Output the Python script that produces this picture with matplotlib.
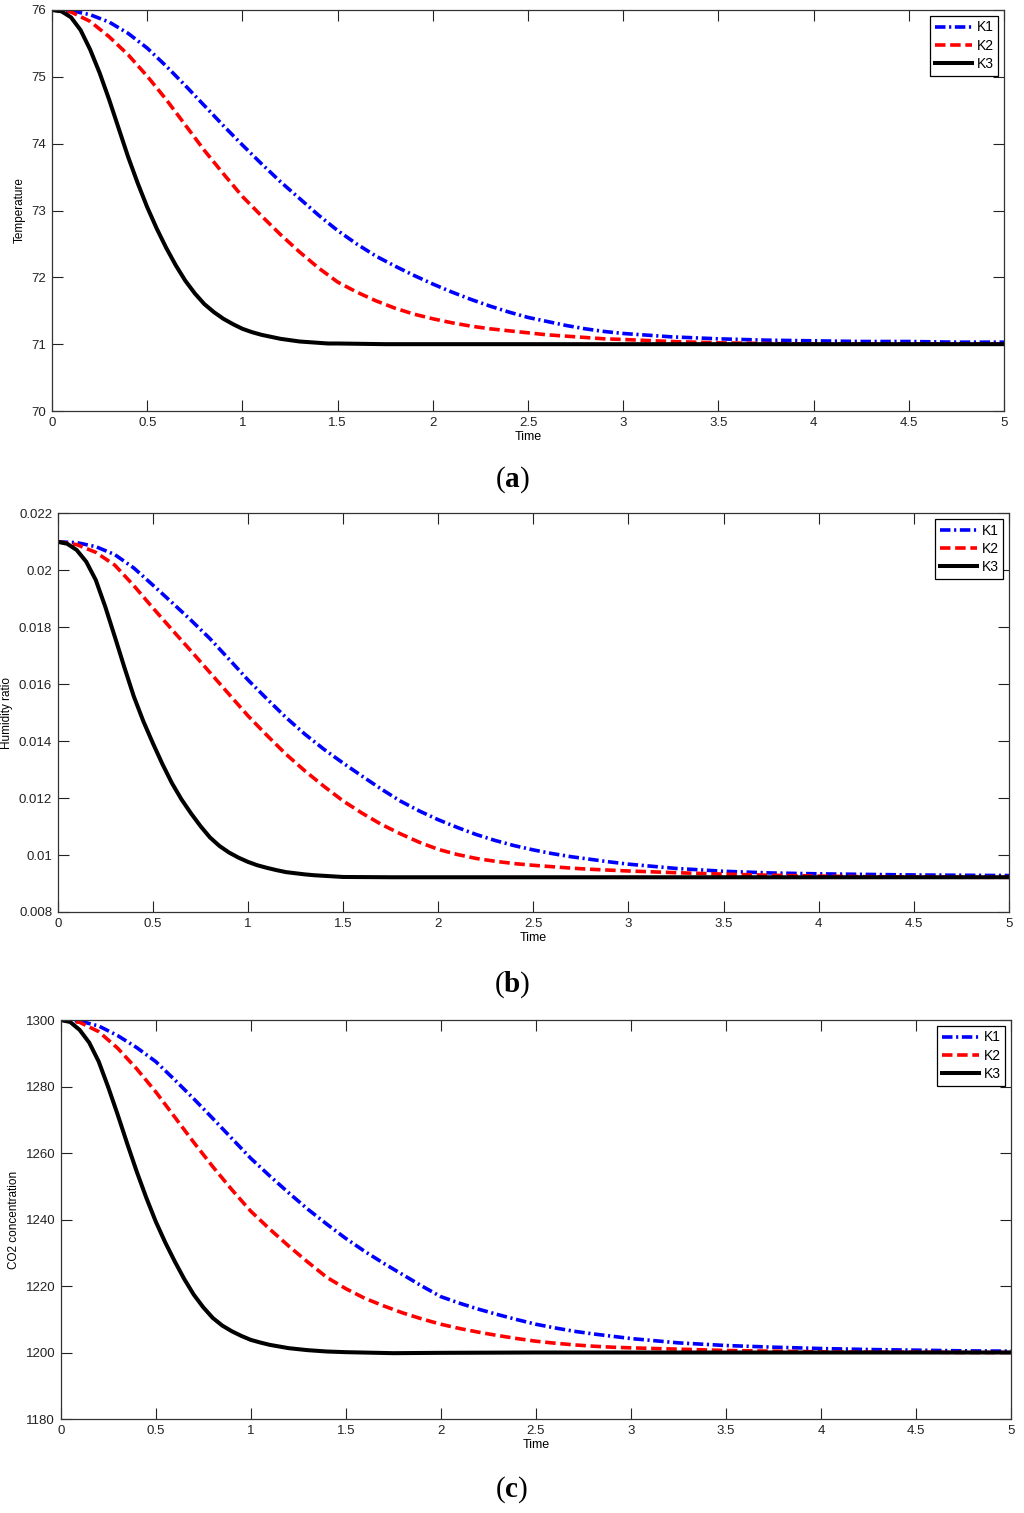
import matplotlib
matplotlib.use('Agg')
import matplotlib.pyplot as plt
from matplotlib.ticker import FormatStrFormatter

plt.rcParams['font.family'] = ['Liberation Sans', 'DejaVu Sans']
plt.rcParams['mathtext.fontset'] = 'custom'
plt.rcParams['mathtext.rm'] = 'Liberation Serif'
plt.rcParams['mathtext.bf'] = 'Liberation Serif:bold'

# time points for the slower K1 / K2 curves
t_slow = [0, 0.1, 0.2, 0.3, 0.4, 0.5, 0.6, 0.7, 0.8, 0.9, 1.0, 1.1, 1.2, 1.3, 1.4,
          1.5, 1.6, 1.7, 1.8, 1.9, 2.0, 2.1, 2.2, 2.3, 2.4, 2.5, 2.6, 2.7, 2.8, 2.9,
          3.0, 3.25, 3.5, 3.75, 4.0, 4.25, 4.5, 4.75, 5.0]
# time points for the fast K3 curve
t_fast = [0, 0.05, 0.1, 0.15, 0.2, 0.25, 0.3, 0.35, 0.4, 0.45, 0.5, 0.55, 0.6, 0.65,
          0.7, 0.75, 0.8, 0.85, 0.9, 0.95, 1.0, 1.05, 1.1, 1.15, 1.2, 1.25, 1.3, 1.35,
          1.4, 1.45, 1.5, 1.75, 2.0, 2.5, 3.0, 3.5, 4.0, 4.5, 5.0]

# (a) temperature
temp_k1 = [76.00, 75.99, 75.93, 75.82, 75.65, 75.43, 75.16, 74.87, 74.57, 74.27,
           73.98, 73.70, 73.43, 73.18, 72.93, 72.70, 72.50, 72.32, 72.17, 72.03,
           71.90, 71.78, 71.67, 71.57, 71.48, 71.40, 71.34, 71.28, 71.23, 71.19,
           71.16, 71.11, 71.08, 71.06, 71.05, 71.04, 71.04, 71.03, 71.03]
temp_k2 = [76.00, 75.97, 75.83, 75.60, 75.33, 75.01, 74.66, 74.28, 73.90, 73.55,
           73.21, 72.92, 72.64, 72.38, 72.14, 71.93, 71.78, 71.65, 71.54, 71.45,
           71.38, 71.32, 71.27, 71.23, 71.20, 71.17, 71.14, 71.12, 71.10, 71.08,
           71.07, 71.04, 71.02, 71.01, 71.00, 71.00, 71.00, 71.00, 71.00]
temp_k3 = [76.00, 75.98, 75.89, 75.70, 75.41, 75.06, 74.66, 74.23, 73.80, 73.41,
           73.05, 72.73, 72.44, 72.18, 71.95, 71.76, 71.60, 71.48, 71.38, 71.30,
           71.23, 71.18, 71.14, 71.11, 71.08, 71.06, 71.04, 71.03, 71.02, 71.01,
           71.01, 71.00, 71.00, 71.00, 71.00, 71.00, 71.00, 71.00, 71.00]

# (b) humidity ratio
hum_k1 = [0.02100, 0.02097, 0.02083, 0.02055, 0.02008, 0.01948, 0.01887, 0.01825,
          0.01760, 0.01688, 0.01615, 0.01548, 0.01483, 0.01424, 0.01371, 0.01323,
          0.01277, 0.01232, 0.01190, 0.01155, 0.01124, 0.01097, 0.01072, 0.01051,
          0.01033, 0.01018, 0.01005, 0.00994, 0.00985, 0.00976, 0.00968, 0.00953,
          0.00943, 0.00937, 0.00934, 0.00932, 0.00930, 0.00929, 0.00928]
hum_k2 = [0.02100, 0.02090, 0.02063, 0.02018, 0.01946, 0.01868, 0.01792, 0.01717,
          0.01641, 0.01565, 0.01489, 0.01420, 0.01354, 0.01295, 0.01241, 0.01190,
          0.01147, 0.01108, 0.01075, 0.01045, 0.01020, 0.01002, 0.00988, 0.00978,
          0.00970, 0.00964, 0.00959, 0.00954, 0.00950, 0.00947, 0.00944, 0.00938,
          0.00933, 0.00929, 0.00926, 0.00924, 0.00923, 0.00922, 0.00922]
hum_k3 = [0.02100, 0.02093, 0.02071, 0.02030, 0.01966, 0.01872, 0.01767, 0.01660,
          0.01557, 0.01470, 0.01393, 0.01320, 0.01253, 0.01196, 0.01147, 0.01102,
          0.01062, 0.01032, 0.01009, 0.00991, 0.00976, 0.00964, 0.00955, 0.00947,
          0.00940, 0.00936, 0.00932, 0.00929, 0.00927, 0.00925, 0.00923, 0.00922,
          0.00922, 0.00922, 0.00922, 0.00922, 0.00922, 0.00922, 0.00922]

# (c) CO2 concentration
co2_k1 = [1300.0, 1299.7, 1298.2, 1295.3, 1291.7, 1287.5, 1282.0, 1276.3, 1270.4,
          1264.4, 1258.4, 1253.1, 1248.0, 1243.1, 1238.6, 1234.3, 1230.4, 1226.8,
          1223.4, 1220.0, 1216.8, 1214.8, 1213.0, 1211.4, 1209.9, 1208.5, 1207.4,
          1206.4, 1205.6, 1204.9, 1204.2, 1202.9, 1202.1, 1201.6, 1201.2, 1200.9,
          1200.7, 1200.5, 1200.4]
co2_k2 = [1300.0, 1299.3, 1296.5, 1291.5, 1285.3, 1278.4, 1270.8, 1263.2, 1255.9,
          1249.0, 1242.5, 1237.1, 1232.0, 1227.2, 1222.6, 1219.2, 1216.3, 1214.0,
          1211.9, 1210.1, 1208.5, 1207.2, 1206.1, 1205.1, 1204.2, 1203.4, 1202.8,
          1202.3, 1201.9, 1201.6, 1201.4, 1201.0, 1200.6, 1200.4, 1200.2, 1200.1,
          1200.1, 1200.0, 1200.0]
co2_k3 = [1300.0, 1299.4, 1297.0, 1293.2, 1287.5, 1279.8, 1271.5, 1262.8, 1254.4,
          1246.6, 1239.4, 1233.1, 1227.4, 1222.1, 1217.4, 1213.6, 1210.4, 1208.1,
          1206.4, 1205.0, 1203.8, 1203.0, 1202.3, 1201.8, 1201.3, 1201.0, 1200.7,
          1200.5, 1200.3, 1200.2, 1200.1, 1199.8, 1199.9, 1200.0, 1200.0, 1200.0,
          1200.0, 1200.0, 1200.0]

labels = ['K1', 'K2', 'K3']
ylabels = ['Temperature', 'Humidity ratio', 'CO2 concentration']
panel_tags = ['a', 'b', 'c']
ylims = [(70, 76), (0.008, 0.022), (1180, 1300)]
yticks = [[70, 71, 72, 73, 74, 75, 76],
          [0.008, 0.01, 0.012, 0.014, 0.016, 0.018, 0.02, 0.022],
          [1180, 1200, 1220, 1240, 1260, 1280, 1300]]
series = [(temp_k1, temp_k2, temp_k3), (hum_k1, hum_k2, hum_k3), (co2_k1, co2_k2, co2_k3)]
xticks = [0, 0.5, 1, 1.5, 2, 2.5, 3, 3.5, 4, 4.5, 5]

W, H = 1024, 1513
fig = plt.figure(figsize=(W / 100, H / 100), dpi=100)

# axes boxes in pixels: left, top, right, bottom
boxes = [(52, 10, 1004, 411), (57.7, 513.3, 1009, 912), (60.7, 1020, 1011, 1419)]
tag_y = [480, 985, 1490]

for i in range(3):
    l, tp, r, b = boxes[i]
    ax = fig.add_axes([l / W, 1 - b / H, (r - l) / W, (b - tp) / H])
    k1, k2, k3 = series[i]
    ax.plot(t_slow, k1, color='#0000ff', lw=2.6, dashes=(2.9, 1.0, 0.6, 1.0), label=labels[0])
    ax.plot(t_slow, k2, color='#ff0000', lw=2.6, dashes=(2.9, 1.3), label=labels[1])
    ax.plot(t_fast, k3, color='black', lw=2.9, label=labels[2])
    ax.set_xlim(0, 5)
    ax.set_ylim(*ylims[i])
    ax.set_xticks(xticks)
    ax.set_yticks(yticks[i])
    ax.xaxis.set_major_formatter(FormatStrFormatter('%g'))
    ax.yaxis.set_major_formatter(FormatStrFormatter('%g'))
    ax.tick_params(direction='in', length=8, width=0.8, top=True, right=True,
                   labelsize=9.5, colors='#222222', pad=4)
    for s in ax.spines.values():
        s.set_linewidth(0.9)
        s.set_color('#333333')
    ax.set_xlabel('Time', fontsize=9, labelpad=2)
    ax.set_ylabel(ylabels[i], fontsize=8.5, labelpad=4)
    leg = ax.legend(loc='upper right', fontsize=10, fancybox=False, edgecolor='black',
                    framealpha=1, borderpad=0.35, labelspacing=0.3, handlelength=2.7,
                    handletextpad=0.3, borderaxespad=0.4)
    leg.get_frame().set_linewidth(0.9)
    fig.text(0.5, 1 - tag_y[i] / H, r'($\mathbf{%s}$)' % panel_tags[i],
             ha='center', va='center', fontsize=21, family='Liberation Serif')

fig.savefig('out.png', dpi=100)
